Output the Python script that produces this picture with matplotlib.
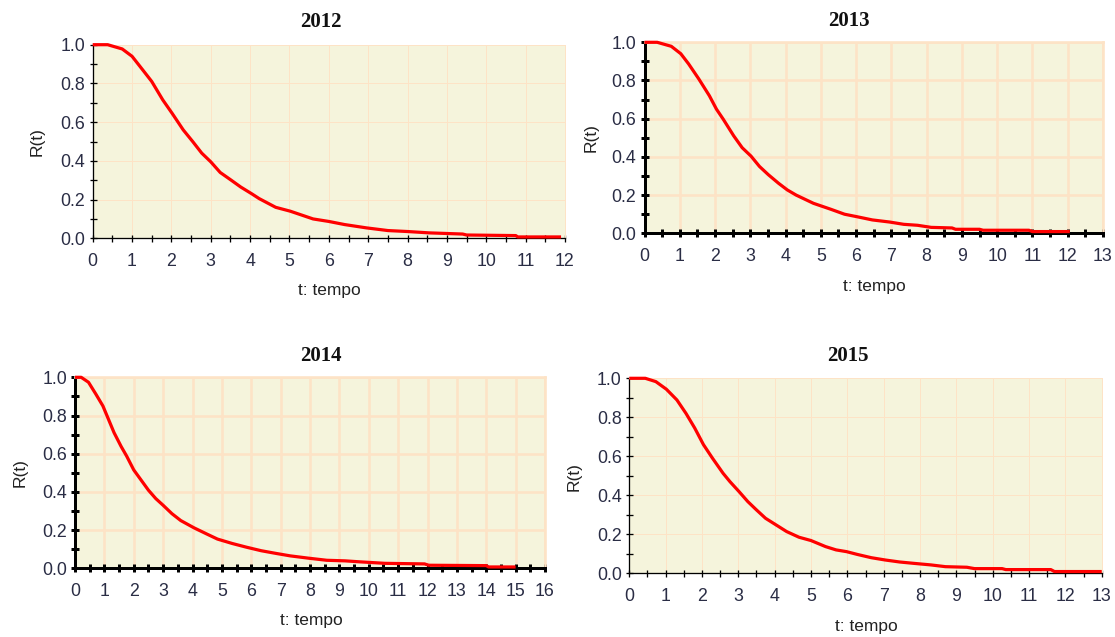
import matplotlib
matplotlib.use('Agg')
import matplotlib.pyplot as plt
from matplotlib.ticker import MultipleLocator, NullFormatter

# ---------------- data ----------------
years = ["2012", "2013", "2014", "2015"]
x_max = [12, 13, 16, 13]

t2012 = [0, 0.38, 0.75, 1.0, 1.27, 1.5, 1.78, 2.02, 2.3, 2.54, 2.77, 3.0, 3.24, 3.52,
         3.76, 4.04, 4.23, 4.65, 5.02, 5.6, 6.0, 6.4, 6.95, 7.5, 8.0, 8.55, 9.4, 9.5,
         10.75, 10.8, 11.9]
r2012 = [1.0, 1.0, 0.978, 0.94, 0.87, 0.81, 0.715, 0.645, 0.56, 0.50, 0.44, 0.395, 0.34,
         0.30, 0.265, 0.23, 0.205, 0.16, 0.14, 0.10, 0.087, 0.071, 0.054, 0.04, 0.035,
         0.028, 0.022, 0.017, 0.014, 0.007, 0.007]

t2013 = [0, 0.36, 0.76, 1.03, 1.25, 1.54, 1.84, 2.04, 2.23, 2.53, 2.77, 3.02, 3.26, 3.51,
         3.8, 4.05, 4.3, 4.79, 5.28, 5.67, 6.02, 6.46, 6.95, 7.35, 7.74, 8.13, 8.72, 8.82,
         9.5, 9.6, 10.9, 11.0, 12.06]
r2013 = [1.0, 1.0, 0.979, 0.94, 0.887, 0.808, 0.72, 0.65, 0.598, 0.51, 0.448, 0.404, 0.35,
         0.307, 0.262, 0.227, 0.2, 0.157, 0.126, 0.10, 0.087, 0.07, 0.059, 0.047, 0.042,
         0.031, 0.028, 0.021, 0.021, 0.016, 0.016, 0.009, 0.009]

t2014 = [0, 0.21, 0.46, 0.71, 0.95, 1.14, 1.33, 1.57, 1.76, 2.0, 2.25, 2.5, 2.75, 3.0, 3.3,
         3.6, 4.05, 4.48, 4.85, 5.35, 5.85, 6.34, 6.84, 7.33, 7.95, 8.57, 9.19, 9.68,
         10.55, 11.9, 12.04, 14.0, 14.08, 15.0]
r2014 = [1.0, 1.0, 0.974, 0.912, 0.85, 0.78, 0.71, 0.638, 0.587, 0.515, 0.462, 0.409,
         0.365, 0.33, 0.286, 0.25, 0.212, 0.18, 0.153, 0.13, 0.11, 0.092, 0.078, 0.065,
         0.053, 0.042, 0.039, 0.034, 0.026, 0.023, 0.016, 0.014, 0.007, 0.007]

t2015 = [0, 0.44, 0.73, 1.02, 1.31, 1.56, 1.8, 2.04, 2.29, 2.58, 2.77, 3.02, 3.26, 3.5,
         3.75, 4.04, 4.33, 4.67, 5.0, 5.4, 5.69, 5.98, 6.27, 6.66, 7.05, 7.44, 7.83, 8.3,
         8.7, 9.29, 9.5, 10.26, 10.36, 11.6, 11.7, 13.0]
r2015 = [1.0, 1.0, 0.983, 0.944, 0.889, 0.82, 0.745, 0.66, 0.59, 0.513, 0.47, 0.419,
         0.368, 0.325, 0.282, 0.248, 0.214, 0.185, 0.168, 0.137, 0.12, 0.111, 0.097, 0.08,
         0.068, 0.058, 0.051, 0.043, 0.034, 0.031, 0.024, 0.024, 0.019, 0.019, 0.009, 0.009]

series_t = [t2012, t2013, t2014, t2015]
series_r = [r2012, r2013, r2014, r2015]

x_label = "t: tempo"
y_label = "R(t)"

# ---------------- layout / style ----------------
W, H = 1115, 637
DPI = 100
fig = plt.figure(figsize=(W / DPI, H / DPI), dpi=DPI)
fig.patch.set_facecolor("white")

def px2pt(p):
    return p * 72.0 / DPI

def rect(l, r, t, b):
    return [l / W, 1 - b / H, (r - l) / W, (b - t) / H]

# (left, right, top, bottom) in pixels
boxes = [(92.7, 565, 44.7, 238.3),
         (644.5, 1103, 42.3, 233.3),
         (75, 545, 377.3, 568.3),
         (629.3, 1101.7, 378.3, 573.3)]
heavy = [False, True, True, False]
title_pos = [(321, 22), (849, 21), (321, 356), (848, 356)]
xlabel_pos = [(329, 290), (874, 287), (311, 620), (866, 627)]
ylabel_pos = [(37, 142), (591, 138), (20, 473), (574, 477)]

BG = "#F5F4DC"
GRID = "#FDE3C6"
TICKC = "#2a2d45"
SANS = "Liberation Sans"
SERIF = "Liberation Serif"
TICKFS = 12.8

for i in range(4):
    ax = fig.add_axes(rect(*boxes[i]))
    ax.set_facecolor(BG)
    hv = heavy[i]
    ax.set_xlim(0, x_max[i])
    ax.set_ylim(0, 1.0)
    ax.xaxis.set_major_locator(MultipleLocator(1))
    ax.xaxis.set_minor_locator(MultipleLocator(0.5))
    ax.yaxis.set_major_locator(MultipleLocator(0.2))
    ax.yaxis.set_minor_locator(MultipleLocator(0.1))
    ax.yaxis.set_major_formatter(plt.FuncFormatter(lambda v, p: f"{v:.1f}"))
    ax.xaxis.set_minor_formatter(NullFormatter())
    ax.yaxis.set_minor_formatter(NullFormatter())

    glw = px2pt(2.6) if hv else px2pt(1.0)
    ax.grid(True, which="major", color=GRID, linewidth=glw, zorder=0)
    ax.set_axisbelow(True)

    slw = px2pt(3.0) if hv else px2pt(1.3)
    for s in ("left", "bottom"):
        ax.spines[s].set_color("black")
        ax.spines[s].set_linewidth(slw)
    for s in ("top", "right"):
        ax.spines[s].set_color(GRID)
        ax.spines[s].set_linewidth(glw)

    tl = px2pt(8) if hv else px2pt(7)
    for which in ("major", "minor"):
        ax.tick_params(axis="both", which=which, direction="inout", length=tl,
                       width=slw, color="black")
    ax.tick_params(axis="x", which="major", pad=px2pt(11), labelsize=TICKFS,
                   labelcolor=TICKC)
    ax.tick_params(axis="y", which="major", pad=px2pt(4), labelsize=TICKFS,
                   labelcolor=TICKC)
    for lab in ax.get_xticklabels() + ax.get_yticklabels():
        lab.set_fontfamily(SANS)

    ax.plot(series_t[i], series_r[i], color="#FF0000", linewidth=px2pt(3.2),
            solid_joinstyle="round", solid_capstyle="butt", clip_on=False, zorder=5)

    tx, ty = title_pos[i]
    fig.text(tx / W, 1 - ty / H, years[i], ha="center", va="center",
             fontfamily=SERIF, fontweight="bold", fontsize=15, color="#111111")
    lx, ly = xlabel_pos[i]
    fig.text(lx / W, 1 - ly / H, x_label, ha="center", va="center",
             fontfamily=SANS, fontsize=12.5, color="#222222")
    yx, yy = ylabel_pos[i]
    fig.text(yx / W, 1 - yy / H, y_label, ha="center", va="center", rotation=90,
             fontfamily=SANS, fontsize=12.5, color="#222222")

fig.savefig("out.png", dpi=DPI, facecolor="white")
